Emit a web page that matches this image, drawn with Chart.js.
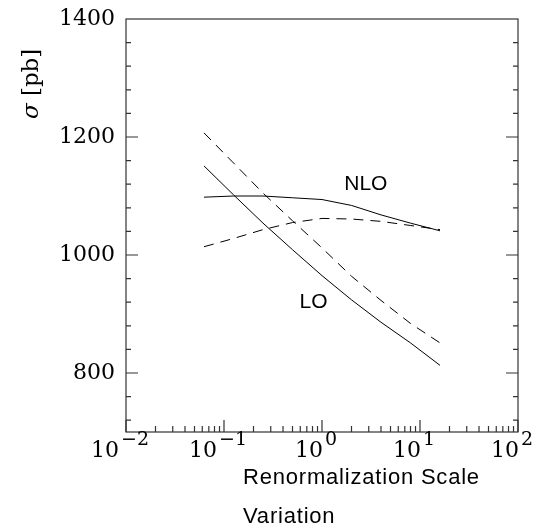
<!DOCTYPE html>
<html>
<head>
<meta charset="utf-8">
<script src="https://cdn.jsdelivr.net/npm/chart.js@4.4.1/dist/chart.umd.min.js"></script>
<style>
    html, body { margin: 0; padding: 0; background: #fff; }
    #wrap { width: 537px; height: 530px; }
</style>
</head>
<body>
<div id="wrap"><canvas id="xsec-chart"></canvas></div>
<script>
// renormalization scale factor (mu / mu0)
const scaleFactors = [0.0625, 0.125, 0.25, 0.5, 1, 2, 4, 8, 16];

// cross sections in pb
const sigmaLO = [1151, 1102, 1054, 1009, 965, 924, 886, 851, 813];
const sigmaLOdashed = [1207, 1156, 1105, 1058, 1012, 964, 923, 884, 851];
const sigmaNLO = [1098, 1100, 1100, 1097, 1094, 1084, 1068, 1054, 1041];
const sigmaNLOdashed = [1014, 1028, 1043, 1055, 1062, 1061, 1057, 1050, 1043];

const yMajorTicks = [800, 1000, 1200, 1400];
const xDecades = [-2, -1, 0, 1, 2];

const curveLabels = [
    { text: "NLO", x: 2.8, y: 1120 },
    { text: "LO", x: 0.82, y: 920 }
];

const SERIF = "'DejaVu Serif', serif";
const SANS = "'Liberation Sans', Arial, sans-serif";

function toPoints(values) {
    return scaleFactors.map((s, i) => ({ x: s, y: values[i] }));
}

function line(values, dashed) {
    return {
        data: toPoints(values),
        borderColor: "#000",
        borderWidth: 1,
        borderDash: dashed ? [10, 7] : [],
        pointRadius: 0,
        tension: 0,
        fill: false
    };
}

// frame, inward ticks, power-of-ten labels and titles
const decorations = {
    id: "decorations",
    afterDraw(chart) {
        const ctx = chart.ctx;
        const area = chart.chartArea;
        const xs = chart.scales.x;
        const ys = chart.scales.y;

        ctx.save();
        ctx.strokeStyle = "#333";
        ctx.lineWidth = 1.2;
        ctx.strokeRect(area.left, area.top, area.right - area.left, area.bottom - area.top);

        ctx.beginPath();
        xDecades.forEach(d => {
            const px = xs.getPixelForValue(Math.pow(10, d));
            ctx.moveTo(px, area.bottom);
            ctx.lineTo(px, area.bottom - 12);
            if (d < 2) {
                for (let m = 2; m <= 9; m++) {
                    const mx = xs.getPixelForValue(m * Math.pow(10, d));
                    ctx.moveTo(mx, area.bottom);
                    ctx.lineTo(mx, area.bottom - 6);
                }
            }
        });
        for (let v = 720; v < 1400; v += 40) {
            const py = ys.getPixelForValue(v);
            const len = yMajorTicks.includes(v) ? 12 : 5;
            ctx.moveTo(area.left, py);
            ctx.lineTo(area.left + len, py);
            ctx.moveTo(area.right, py);
            ctx.lineTo(area.right - len, py);
        }
        ctx.stroke();

        // 10^n tick labels
        ctx.fillStyle = "#000";
        ctx.textBaseline = "alphabetic";
        ctx.textAlign = "left";
        xDecades.forEach(d => {
            const px = xs.getPixelForValue(Math.pow(10, d));
            const exp = d < 0 ? "\u2212" + Math.abs(d) : String(d);
            ctx.font = "22px " + SERIF;
            const wBase = ctx.measureText("10").width;
            ctx.font = "19px " + SERIF;
            const wExp = ctx.measureText(exp).width;
            const start = px - 6 - (wBase + 2 + wExp) / 2;
            ctx.font = "22px " + SERIF;
            ctx.fillText("10", start, area.bottom + 25);
            ctx.font = "19px " + SERIF;
            ctx.fillText(exp, start + wBase + 2, area.bottom + 13);
        });

        // curve labels
        ctx.font = "21px " + SANS;
        ctx.textAlign = "center";
        ctx.textBaseline = "middle";
        curveLabels.forEach(l => {
            ctx.fillText(l.text, xs.getPixelForValue(l.x), ys.getPixelForValue(l.y));
        });

        // x axis title, left aligned on two lines
        ctx.textAlign = "left";
        ctx.textBaseline = "alphabetic";
        ctx.font = "22px " + SANS;
        ctx.letterSpacing = "0.8px";
        ctx.fillText("Renormalization Scale", area.left + 117, area.bottom + 52);
        ctx.fillText("Variation", area.left + 117, area.bottom + 91);
        ctx.letterSpacing = "0px";

        // y axis title
        ctx.translate(38, ys.getPixelForValue(1290));
        ctx.rotate(-Math.PI / 2);
        ctx.font = "italic 23px " + SERIF;
        const wSigma = ctx.measureText("\u03c3").width;
        ctx.font = "23px " + SERIF;
        const wRest = ctx.measureText(" [pb]").width;
        const x0 = -(wSigma + wRest) / 2;
        ctx.font = "italic 23px " + SERIF;
        ctx.fillText("\u03c3", x0, 0);
        ctx.font = "23px " + SERIF;
        ctx.fillText(" [pb]", x0 + wSigma, 0);
        ctx.restore();
    }
};

new Chart(document.getElementById("xsec-chart"), {
    type: "line",
    data: {
        datasets: [
            line(sigmaLO, false),
            line(sigmaLOdashed, true),
            line(sigmaNLO, false),
            line(sigmaNLOdashed, true)
        ]
    },
    options: {
        responsive: true,
        maintainAspectRatio: false,
        animation: false,
        layout: {
            padding: { top: 19, right: 19, bottom: 0, left: 0 }
        },
        plugins: {
            legend: { display: false },
            tooltip: { enabled: false }
        },
        scales: {
            x: {
                type: "logarithmic",
                min: 0.01,
                max: 100,
                grid: { display: false, drawTicks: false },
                border: { display: false },
                ticks: { display: false },
                afterFit: s => { s.height = 98; }
            },
            y: {
                type: "linear",
                min: 700,
                max: 1400,
                grid: { display: false, drawTicks: false },
                border: { display: false },
                ticks: {
                    stepSize: 200,
                    padding: 11,
                    color: "#000",
                    font: { family: "DejaVu Serif", size: 22 },
                    callback: v => (yMajorTicks.includes(v) ? String(v) : "")
                },
                afterFit: s => {
                    s.width = 126;
                    s.paddingTop = 0;
                    s.paddingBottom = 0;
                }
            }
        }
    },
    plugins: [decorations]
});
</script>
</body>
</html>
